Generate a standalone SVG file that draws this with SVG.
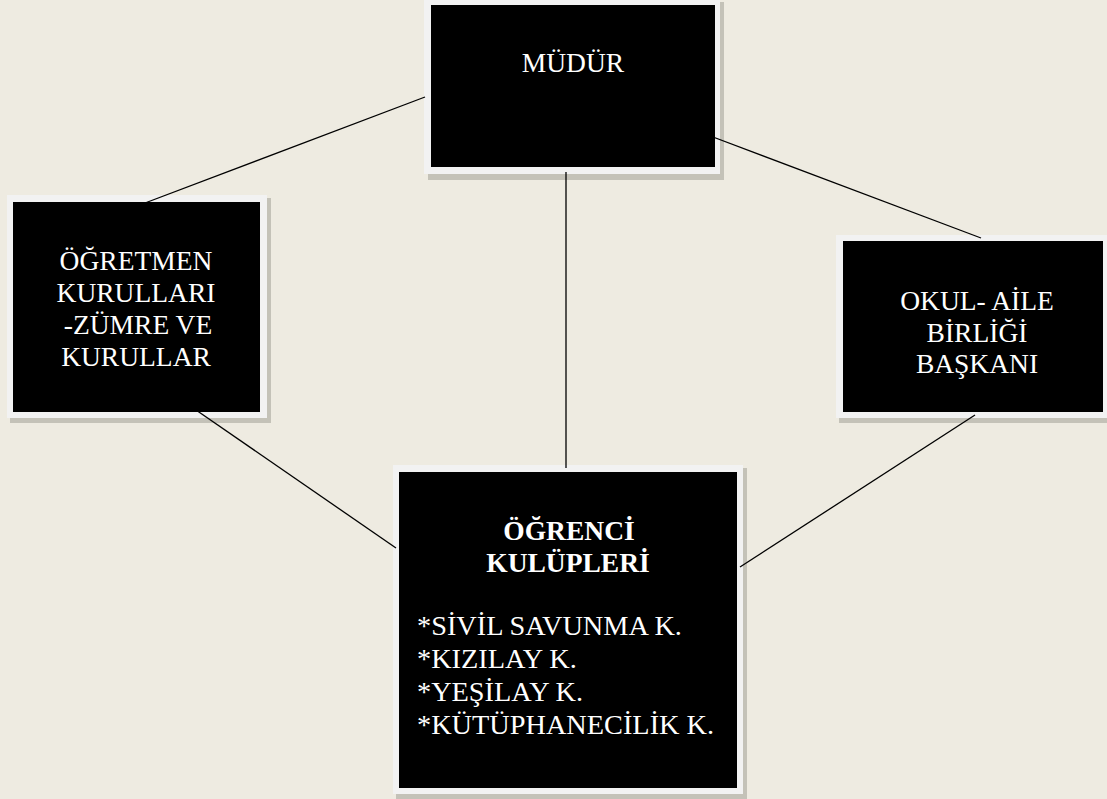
<svg xmlns="http://www.w3.org/2000/svg" width="1107" height="799" viewBox="0 0 1107 799">
<style>
.bg{fill:#eeebe1}
.sh{fill:#c4c2b8}
.fr{fill:#f2f2f2}
.bx{fill:#000000}
text{font-family:'Liberation Serif','Times New Roman',serif;font-size:27.5px;fill:#ffffff}
.c{text-anchor:middle}
.b{font-weight:bold}
.l{font-size:28.3px}
.ln{stroke:#000;stroke-width:1.3;fill:none}
</style>
<rect class="bg" x="0" y="0" width="1107" height="799"/>
<g id="mudur">
<rect class="sh" x="428" y="2" width="296" height="178"/>
<rect class="fr" x="424" y="-2" width="296" height="176"/>
<rect class="bx" x="431" y="5" width="284" height="162"/>
<text class="c" x="573" y="72">MÜDÜR</text>
</g>
<g id="ogretmen">
<rect class="sh" x="10" y="198" width="261" height="225"/>
<rect class="fr" x="7" y="195" width="260" height="223"/>
<rect class="bx" x="13" y="202" width="247" height="210"/>
<text class="c" x="136" y="270">ÖĞRETMEN</text>
<text class="c" x="136" y="302">KURULLARI</text>
<text class="c" x="138" y="334">-ZÜMRE VE</text>
<text class="c" x="136" y="366">KURULLAR</text>
</g>
<g id="okul">
<rect class="sh" x="839" y="238" width="272" height="185"/>
<rect class="fr" x="836" y="235" width="275" height="183"/>
<rect class="bx" x="843" y="241" width="260" height="171"/>
<text class="c" x="977" y="310">OKUL- AİLE</text>
<text class="c" x="977" y="342">BİRLİĞİ</text>
<text class="c" x="977" y="373">BAŞKANI</text>
</g>
<g id="ogrenci">
<rect class="sh" x="396" y="468" width="351" height="331"/>
<rect class="fr" x="393" y="465" width="350" height="329"/>
<rect class="bx" x="399" y="472" width="338" height="316"/>
<text class="c b" x="569" y="540">ÖĞRENCİ</text>
<text class="c b" x="568" y="572">KULÜPLERİ</text>
<text class="l" x="417" y="635">*SİVİL SAVUNMA K.</text>
<text class="l" x="417" y="668">*KIZILAY K.</text>
<text class="l" x="417" y="701">*YEŞİLAY K.</text>
<text class="l" x="417" y="734">*KÜTÜPHANECİLİK K.</text>
</g>
<g id="connectors">
<line class="ln" x1="425" y1="97" x2="145" y2="203"/>
<line class="ln" x1="713" y1="137" x2="981" y2="238"/>
<line class="ln" x1="566" y1="172" x2="566" y2="468"/>
<line class="ln" x1="196" y1="410" x2="396" y2="548"/>
<line class="ln" x1="975" y1="415" x2="740" y2="567"/>
</g>
</svg>
